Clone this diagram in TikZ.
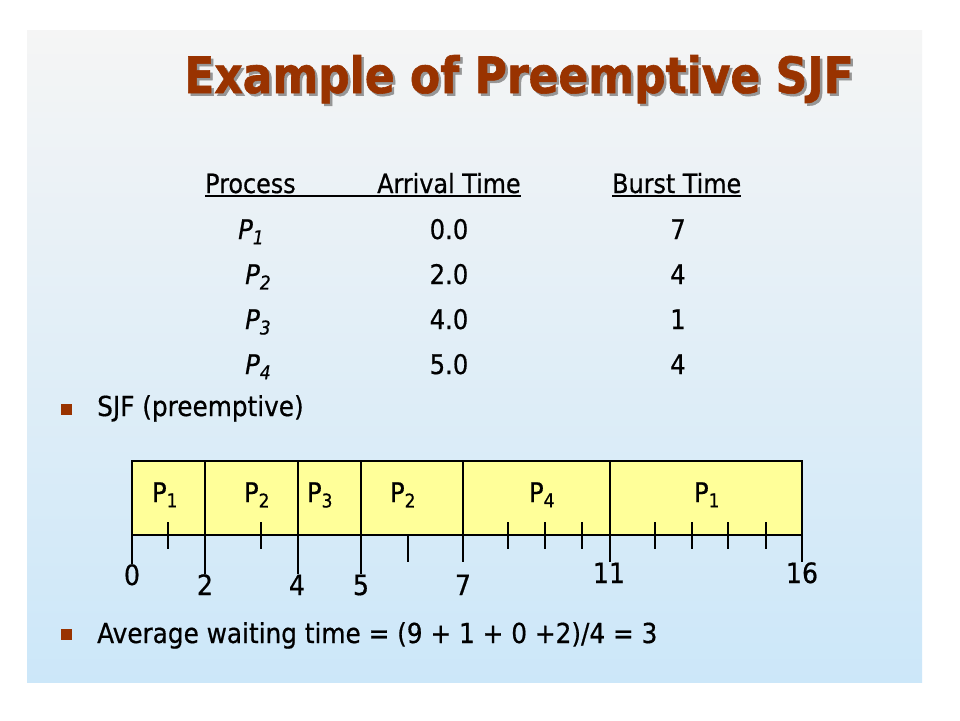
\documentclass[tikz,border=0pt]{standalone}
\usepackage{fontspec}
\setmainfont{DejaVu Sans}[FakeStretch=0.9, FakeBold=0.6]
\newfontfamily\titlefont{DejaVu Sans Bold}[FakeStretch=0.88, FakeBold=1.2]
\usepackage{tikz}
\usetikzlibrary{positioning}
\definecolor{slidered}{RGB}{153,51,0}
\definecolor{slideshadow}{RGB}{150,150,150}
\definecolor{slidetop}{RGB}{245,245,245}
\definecolor{slidemid}{RGB}{226,237,246}
\definecolor{slideblue}{RGB}{204,231,249}
\definecolor{ganttyellow}{RGB}{255,255,153}
\newcommand{\shadowed}[1]{\makebox[0pt][l]{\hspace{2.5pt}\raisebox{-2.5pt}{\color{slideshadow}#1}}#1}

\begin{document}
\begin{tikzpicture}[x=1pt, y=-1pt,
        title/.style={anchor=base, inner sep=0pt, text=slidered,
            font=\titlefont\fontsize{50}{50}\selectfont},
        head/.style={anchor=base west, inner sep=0pt, font=\fontsize{26.5}{26.5}\selectfont},
        cell/.style={anchor=base, inner sep=0pt, font=\fontsize{27}{27}\selectfont},
        bullet/.style={fill=slidered, minimum size=11pt, inner sep=0pt},
        txt/.style={anchor=base west, inner sep=0pt, font=\fontsize{27.5}{27.5}\selectfont},
        seg/.style={draw, fill=ganttyellow, line width=1.6pt, minimum height=74pt,
            inner sep=0pt, outer sep=0pt},
        pname/.style={anchor=base, inner sep=0pt, font=\fontsize{27}{27}\selectfont},
        tm/.style={anchor=base, inner sep=0pt, font=\fontsize{28}{28}\selectfont},
        tick/.style={line width=1.6pt}]
    % slide
    \fill[white] (0,0) rectangle (960,720);
    \shade[top color=slidetop, middle color=slidemid, bottom color=slideblue]
        (27,30) rectangle (922,682);
    \useasboundingbox (0,0) rectangle (960,720);

    % title
    \node[title] (ttl) at (519,93) {\shadowed{Example of Preemptive SJF}};

    % table
    \node[head] (hproc)  at (205,193) {Process};
    \node[head] (harr)   at (377,193) {Arrival Time};
    \node[head] (hburst) at (612,193) {Burst Time};
    \draw[line width=1.2pt] ([yshift=-3pt]hproc.base west) -- ([yshift=-3pt]harr.base east);
    \draw[line width=1.2pt] ([yshift=-3pt]hburst.base west) -- ([yshift=-3pt]hburst.base east);

    \foreach \i/\px/\arr/\bur [count=\r from 0] in {1/238/0.0/7, 2/245/2.0/4, 3/245/4.0/1, 4/245/5.0/4} {
        \node[cell, anchor=base west] (p\i) at (\px,239+45*\r) {\textit{P\textsubscript{\i}}};
        \node[cell] (a\i) at (449,239+45*\r) {\arr};
        \node[cell] (b\i) at (678,239+45*\r) {\bur};
    }

    % bullets
    \node[bullet] (bul1) at (66,409) {};
    \node[txt] (sjf) at (97,416) {SJF (preemptive)};
    \node[bullet] (bul2) at (66,634) {};
    \node[txt] (avg) at (97,643) {Average waiting time = (9 + 1 + 0 +2)/4 = 3};

    % gantt chart
    \node[seg, minimum width=73pt, anchor=north west] (s1) at (132,461) {};
    \node[seg, minimum width=93pt, right=0pt of s1] (s2) {};
    \node[seg, minimum width=63pt, right=0pt of s2] (s3) {};
    \node[seg, minimum width=102pt, right=0pt of s3] (s4) {};
    \node[seg, minimum width=147pt, right=0pt of s4] (s5) {};
    \node[seg, minimum width=192pt, right=0pt of s5] (s6) {};

    \node[pname] (l1) at (165,502) {P\textsubscript{1}};
    \node[pname] (l2) at (257,502) {P\textsubscript{2}};
    \node[pname] (l3) at (320,502) {P\textsubscript{3}};
    \node[pname] (l4) at (403,502) {P\textsubscript{2}};
    \node[pname] (l5) at (542,502) {P\textsubscript{4}};
    \node[pname] (l6) at (707,502) {P\textsubscript{1}};

    \foreach \t/\x/\y in {0/132/585, 2/205/595, 4/297/595, 5/361/595, 7/463/595, 11/609/583, 16/802/583}
        \node[tm] (t\t) at (\x,\y) {\t};

    \draw[tick] (s1.south west) -- (s1.south west |- t0.north);
    \draw[tick] (s2.north west) -- (s2.north west |- t2.north);
    \draw[tick] (s3.north west) -- (s3.north west |- t4.north);
    \draw[tick] (s4.north west) -- (s4.north west |- t5.north);
    \draw[tick] (s5.north west) -- ([yshift=12pt]s5.north west |- t7.north);
    \draw[tick] (s6.north west) -- (s6.north west |- t11.north);
    \draw[tick] (s6.south east) -- (s6.south east |- t16.north);

    \foreach \x in {168,261,508,545,582,655,692,728,766}
        \draw[tick] (\x,522) -- (\x,549);
    \draw[tick] (408,535) -- (408,562);
\end{tikzpicture}
\end{document}
